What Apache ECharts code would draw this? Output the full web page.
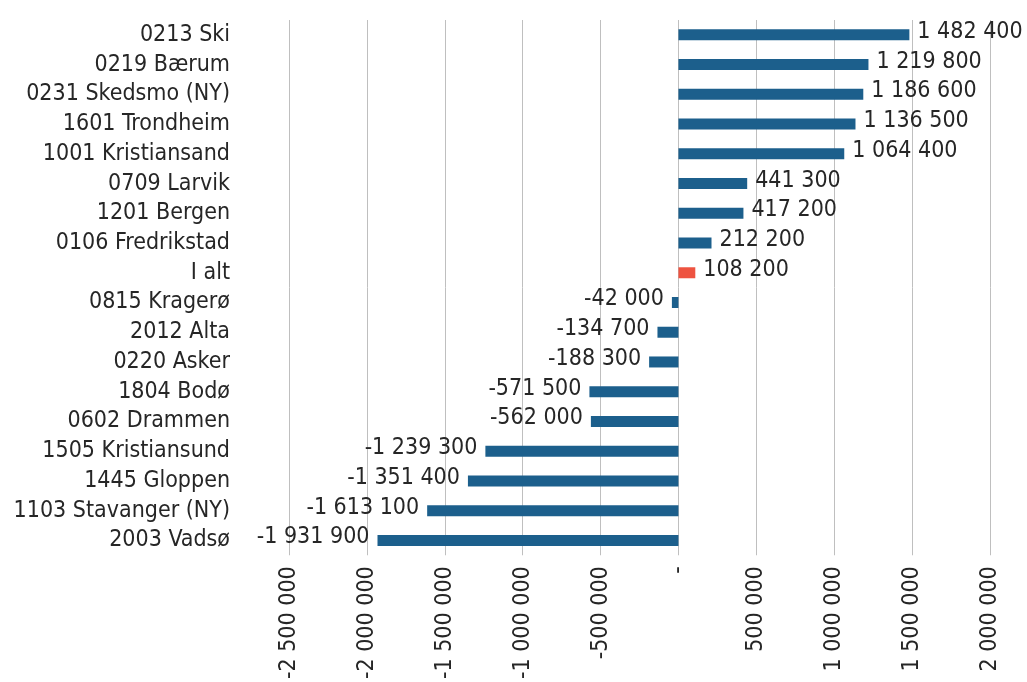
<!DOCTYPE html>
<html>
<head>
<meta charset="utf-8">
<script src="https://cdn.jsdelivr.net/npm/echarts@6/dist/echarts.min.js"></script>
<style>
  html, body { margin: 0; padding: 0; background: #fff; }
  #chart { width: 1027px; height: 682px; }
</style>
</head>
<body>
<div id="chart"></div>
<script>
// kommuner, sortert som i figuren (øverst først)
var categories = [
  '0213 Ski', '0219 Bærum', '0231 Skedsmo (NY)', '1601 Trondheim',
  '1001 Kristiansand', '0709 Larvik', '1201 Bergen', '0106 Fredrikstad',
  'I alt', '0815 Kragerø', '2012 Alta', '0220 Asker', '1804 Bodø',
  '0602 Drammen', '1505 Kristiansund', '1445 Gloppen',
  '1103 Stavanger (NY)', '2003 Vadsø'
]
var values = [
  1482400, 1219800, 1186600, 1136500, 1064400, 441300, 417200, 212200,
  108200, -42000, -134700, -188300, -571500, -562000, -1239300,
  -1351400, -1613100, -1931900
]
var highlight = 'I alt'
var axisMin = -2500000
var axisMax = 2000000
var axisStep = 500000

var FONT = '"DejaVu Sans Condensed", "DejaVu Sans"'
var TXT = '#262626'
var FS = 23

function fmt(v) {
  var s = String(Math.abs(v)).replace(/\B(?=(\d{3})+(?!\d))/g, ' ')
  return (v < 0 ? '-' : '') + s
}

var chart = echarts.init(document.getElementById('chart'))
chart.setOption({
  animation: false,
  grid: { left: 289, right: 37, top: 20, bottom: 123, containLabel: false },
  xAxis: {
    type: 'value',
    min: axisMin,
    max: axisMax,
    interval: axisStep,
    axisLine: { show: false },
    axisTick: { show: false },
    splitLine: { lineStyle: { color: '#bfbfbf', width: 1 } },
    axisLabel: {
      rotate: 90,
      margin: 11,
      fontFamily: FONT,
      fontSize: FS,
      color: TXT,
      formatter: function (v) { return v === 0 ? '-' : fmt(v) }
    }
  },
  yAxis: {
    type: 'category',
    inverse: true,
    data: categories,
    axisLine: { show: false },
    axisTick: { show: false },
    axisLabel: {
      interval: 0,
      margin: 59, fontFamily: FONT, fontSize: FS, color: TXT,
      padding: [0, 0, 6, 0]
    }
  },
  series: [{
    type: 'bar',
    barWidth: 11,
    data: values.map(function (v, i) {
      return {
        value: v,
        itemStyle: { color: categories[i] === highlight ? '#ee5340' : '#1c5f8c' },
        label: { position: v < 0 ? 'left' : 'right' }
      }
    }),
    label: {
      show: true,
      distance: 8,
      offset: [0, -3],
      fontFamily: FONT,
      fontSize: FS,
      color: TXT,
      formatter: function (p) { return fmt(p.value) }
    }
  }]
})
</script>
</body>
</html>
